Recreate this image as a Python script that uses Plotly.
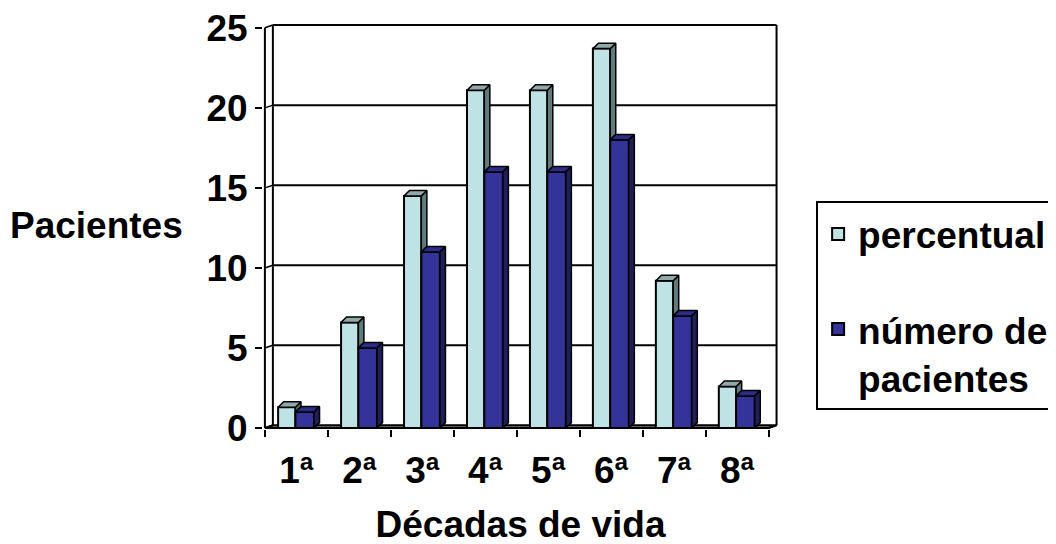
import plotly.graph_objects as go

# ---- data ----
categories = ["1ª", "2ª", "3ª", "4ª", "5ª", "6ª", "7ª", "8ª"]
percentual = [1.3, 6.6, 14.5, 21.1, 21.1, 23.7, 9.2, 2.6]
numero_pacientes = [1, 5, 11, 16, 16, 18, 7, 2]
y_ticks = [0, 5, 10, 15, 20, 25]
series_names = ["percentual", "número de<br>pacientes"]

# ---- style ----
FONT = "Liberation Sans, Arial, sans-serif"
FS = 37
LIGHT, LIGHT_TOP, LIGHT_SIDE = "#BFE3E5", "#90AAAB", "#5F7B7C"
DARK, DARK_TOP, DARK_SIDE = "#333399", "#2B2B88", "#1F1F5C"
LW = 2

pos = list(range(len(categories)))
L_OFF, L_W = -0.29, 0.275
D_OFF, D_W = -0.015, 0.295
DX, DY = 0.088, 0.34          # bar depth (data units)
WX, WY = 0.127, 0.17          # back-wall offset (data units)
X0, X1 = -0.5, len(categories) - 0.5
YMAX = y_ticks[-1]

fig = go.Figure()

fig.add_trace(go.Bar(x=pos, y=percentual, name=series_names[0], offset=L_OFF, width=L_W,
                     marker=dict(color=LIGHT, line=dict(color="black", width=LW)),
                     legendgroup="a"))
fig.add_trace(go.Bar(x=pos, y=numero_pacientes, name=series_names[1], offset=D_OFF, width=D_W,
                     marker=dict(color=DARK, line=dict(color="black", width=LW)),
                     legendgroup="b"))


def polys(pts_list):
    xs, ys = [], []
    for pts in pts_list:
        for (a, b) in pts:
            xs.append(a)
            ys.append(b)
        xs.append(pts[0][0]); ys.append(pts[0][1])
        xs.append(None); ys.append(None)
    return xs, ys


light_top, light_side, dark_top, dark_side = [], [], [], []
for i, (vl, vd) in enumerate(zip(percentual, numero_pacientes)):
    xl, xr = i + L_OFF, i + L_OFF + L_W
    dl, dr = i + D_OFF, i + D_OFF + D_W
    light_top.append([(xl, vl), (xl + DX, vl + DY), (xr + DX, vl + DY), (xr, vl)])
    base = min(vd, vl)
    light_side.append([(xr, base), (xr + DX, base + DY), (xr + DX, vl + DY), (xr, vl)])
    dark_top.append([(dl, vd), (dl + DX, vd + DY), (dr + DX, vd + DY), (dr, vd)])
    dark_side.append([(dr, 0), (dr + DX, DY), (dr + DX, vd + DY), (dr, vd)])

for pts, col in [(light_side, LIGHT_SIDE), (light_top, LIGHT_TOP),
                 (dark_top, DARK_TOP), (dark_side, DARK_SIDE)]:
    xs, ys = polys(pts)
    fig.add_trace(go.Scatter(x=xs, y=ys, mode="lines", fill="toself", fillcolor=col,
                             line=dict(color="black", width=1.5), showlegend=False,
                             hoverinfo="skip"))

shapes = []
# floor
shapes.append(dict(type="path", layer="below", fillcolor="#808080",
                   line=dict(color="black", width=LW),
                   path=f"M {X0},0 L {X1},0 L {X1 + WX},{WY} L {X0 + WX},{WY} Z"))
# back wall gridlines + left wall diagonals
for v in y_ticks:
    if v > 0:
        shapes.append(dict(type="line", layer="below", x0=X0 + WX, x1=X1 + WX, y0=v + WY, y1=v + WY,
                           line=dict(color="black", width=LW)))
    shapes.append(dict(type="line", layer="below", x0=X0, x1=X0 + WX, y0=v, y1=v + WY,
                       line=dict(color="black", width=1.5)))
# back wall verticals
for xv in (X0 + WX, X1 + WX):
    shapes.append(dict(type="line", layer="below", x0=xv, x1=xv, y0=WY, y1=YMAX + WY,
                       line=dict(color="black", width=LW)))
# front y axis
shapes.append(dict(type="line", layer="above", x0=X0, x1=X0, y0=0, y1=YMAX,
                   line=dict(color="black", width=LW)))
# floor right diagonal
shapes.append(dict(type="line", layer="below", x0=X1, x1=X1 + WX, y0=0, y1=WY,
                   line=dict(color="black", width=1.5)))

tick_font = dict(family=FONT, size=FS, color="black", weight="bold")

fig.update_layout(
    width=1056, height=544,
    margin=dict(l=255.1, r=286.4, t=11.2, b=122.5, autoexpand=False),
    paper_bgcolor="white", plot_bgcolor="white",
    barmode="overlay",
    showlegend=True,
    legend=dict(x=1.074, xanchor="left", y=0.555, yanchor="top",
                bordercolor="black", borderwidth=2, bgcolor="white",
                font=dict(family=FONT, size=FS, color="black", weight="bold"),
                tracegroupgap=44, valign="top", itemwidth=30,
                traceorder="grouped"),
    shapes=shapes,
    xaxis=dict(range=[-0.53, 7.65], tickmode="array", tickvals=pos, ticktext=categories,
               ticks="", showgrid=False, zeroline=False, showline=False, automargin=False,
               tickfont=tick_font, ticklabelstandoff=16, ticklabeloverflow="allow",
               minor=dict(tickmode="array", tickvals=[p - 0.5 for p in pos] + [X1],
                          ticks="outside", ticklen=7, tickwidth=2, tickcolor="black",
                          showgrid=False),
               title=dict(text="Décadas de vida", standoff=21,
                          font=dict(family=FONT, size=FS, color="black", weight="bold"))),
    yaxis=dict(range=[-0.06, 25.55], tickmode="array", tickvals=y_ticks,
               ticks="outside", ticklen=7, tickwidth=2, tickcolor="black", automargin=False,
               ticklabeloverflow="allow",
               showgrid=False, zeroline=False, showline=False, tickfont=tick_font),
    annotations=[dict(text="Pacientes", xref="paper", yref="paper", x=-0.324, y=0.497,
                      xanchor="center", yanchor="middle", showarrow=False,
                      font=dict(family=FONT, size=FS, color="black", weight="bold"))],
)

fig.write_html("out.html")
